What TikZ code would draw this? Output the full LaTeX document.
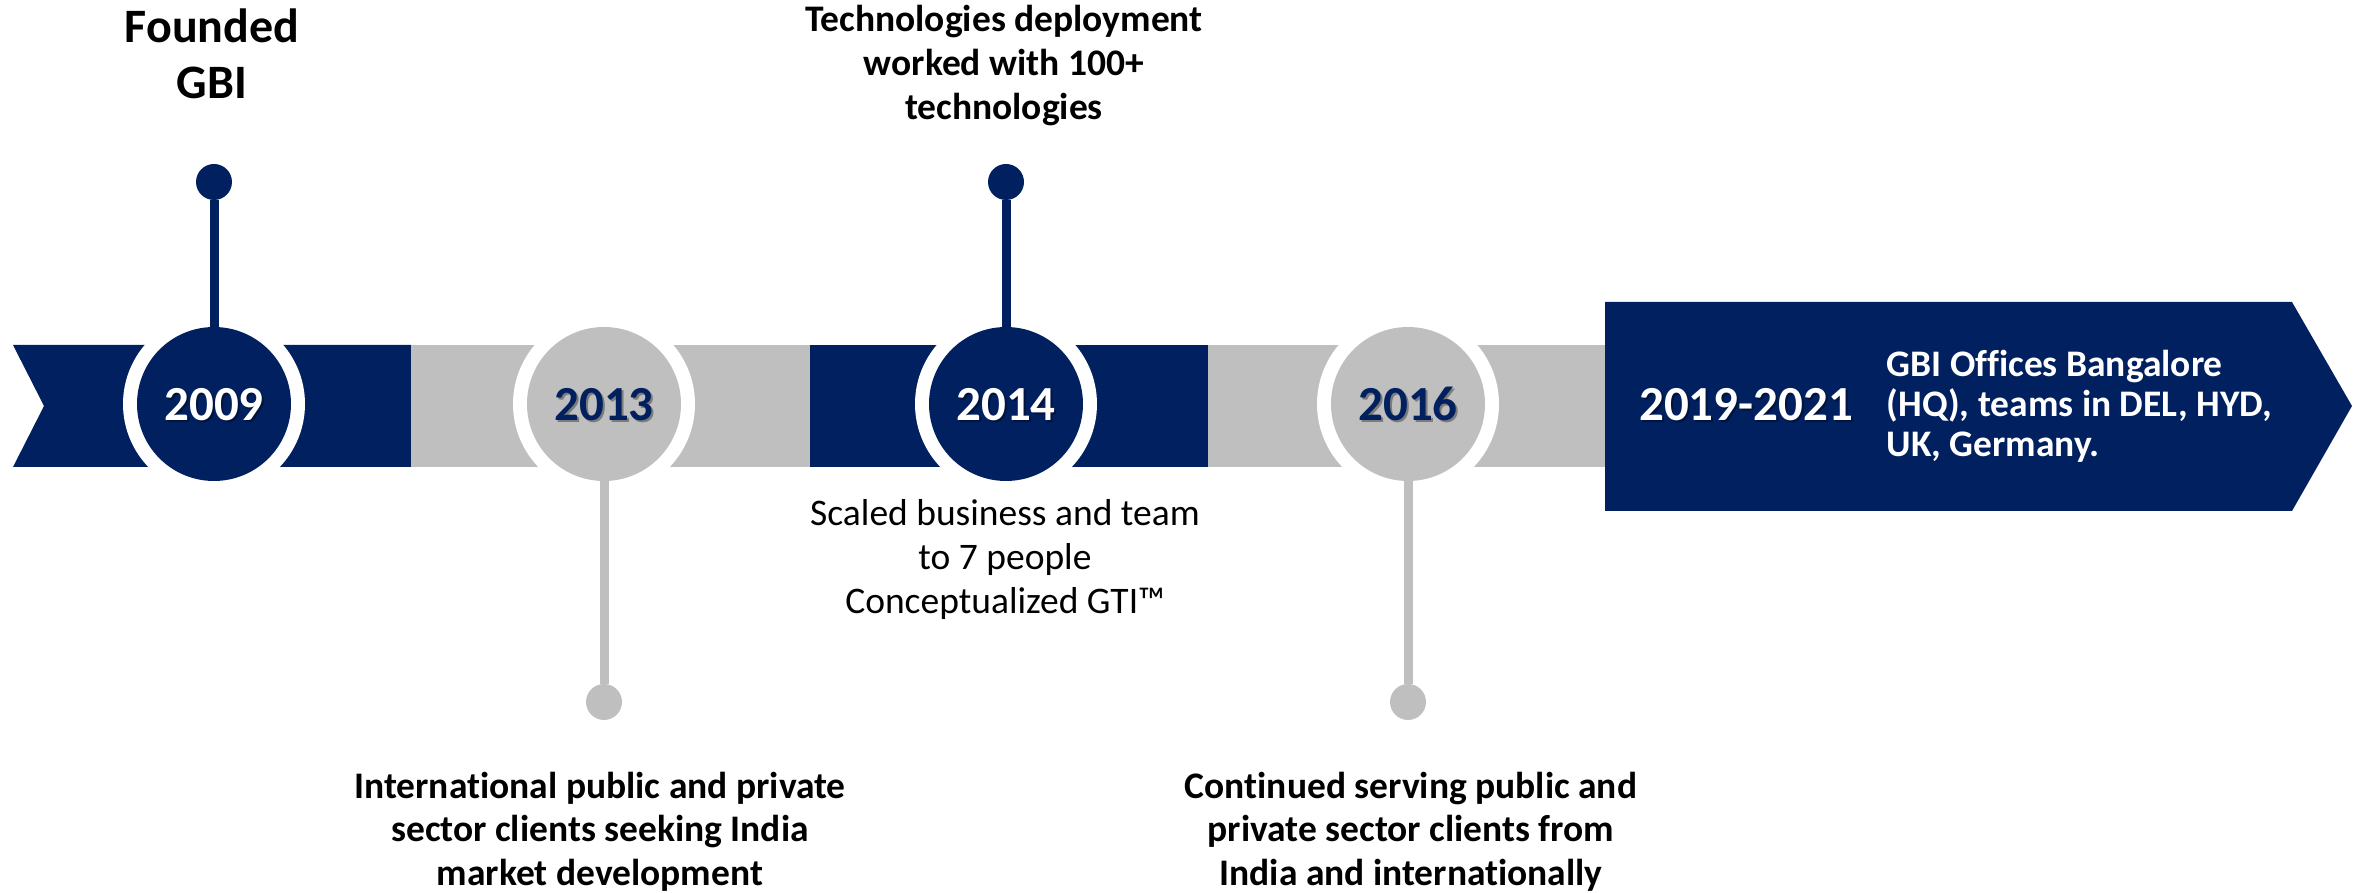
\documentclass[tikz,border=0pt]{standalone}
\usepackage{fontspec}
\setmainfont[Ligatures=NoCommon]{Carlito}
\definecolor{navy}{HTML}{002060}
\definecolor{lgray}{HTML}{BFBFBF}
\begin{document}
\begin{tikzpicture}[x=0.3pt,y=-0.3pt,
  ring/.style={circle,fill=white,minimum size=54.6pt,inner sep=0pt,outer sep=0pt},
  disc/.style={circle,fill=#1,minimum size=46.2pt,inner sep=0pt,outer sep=0pt},
  dot/.style={circle,fill=#1,minimum size=10.8pt,inner sep=0pt,outer sep=0pt},
  stem/.style={draw=#1,line width=2.7pt},
  yeartext/.style={inner sep=0pt,anchor=base,font=\fontsize{14.7}{17}\selectfont\bfseries},
  shadowtext/.style={yeartext,text=black,opacity=0.35},
  bigtitle/.style={inner sep=0pt,anchor=base,align=center,font=\fontsize{14.4}{16.8}\selectfont\bfseries},
  note/.style={inner sep=0pt,anchor=base,align=center,font=\fontsize{11.25}{13.2}\selectfont},
  boldnote/.style={note,font=\fontsize{11.25}{13.2}\selectfont\bfseries},
  arrownote/.style={inner sep=0pt,anchor=base west,align=left,text=white,font=\fontsize{11.25}{12}\selectfont\bfseries}
]
\useasboundingbox (0,0) rectangle (2366,893);

% band segments
\fill[navy] (13,345) -- (411,345) -- (411,467) -- (13,467) -- (44,406) -- cycle;
\fill[lgray] (411,345) rectangle (810,467);
\fill[navy] (810,345) rectangle (1208,467);
\fill[lgray] (1208,345) rectangle (1606,467);
% final arrow
\fill[navy] (1605,302) -- (2292,302) -- (2352,406) -- (2292,511) -- (1605,511) -- cycle;

% rings and discs
\node[ring] (r09) at (214,404) {};
\node[ring] (r13) at (604,404) {};
\node[ring] (r14) at (1006,404) {};
\node[ring] (r16) at (1408,404) {};
\node[disc=navy] (c09) at (214,404) {};
\node[disc=lgray] (c13) at (604,404) {};
\node[disc=navy] (c14) at (1006,404) {};
\node[disc=lgray] (c16) at (1408,404) {};

% dots and stems
\node[dot=navy] (d09) at (214,182) {};
\node[dot=navy] (d14) at (1006,182) {};
\node[dot=lgray] (d13) at (604,702) {};
\node[dot=lgray] (d16) at (1408,702) {};
\draw[stem=navy] (d09) -- (c09);
\draw[stem=navy] (d14) -- (c14);
\draw[stem=lgray] (c13) -- (d13);
\draw[stem=lgray] (c16) -- (d16);

% year labels
\node[shadowtext] at (216,423) {2009};
\node[shadowtext] at (606,423) {2013};
\node[shadowtext] at (1008,423) {2014};
\node[shadowtext] at (1410,423) {2016};
\node[shadowtext] at (1748,423) {2019-2021};
\node[yeartext,text=white] (y09) at (214,421) {2009};
\node[yeartext,text=navy] (y13) at (604,421) {2013};
\node[yeartext,text=white] (y14) at (1006,421) {2014};
\node[yeartext,text=navy] (y16) at (1408,421) {2016};
\node[yeartext,text=white] (y19) at (1746,421) {2019-2021};

% texts (base anchor = last line baseline)
\node[bigtitle] (t09) at (212,99) {Founded\\GBI};
\node[boldnote] (t14a) at (1004,120) {Technologies deployment\\worked with 100+\\technologies};
\node[note] (t14b) at (1005,614) {Scaled business and team\\to 7 people\\Conceptualized GTI™};
\node[boldnote] (t13) at (600,886) {International public and private\\sector clients seeking India\\market development};
\node[boldnote] (t16) at (1411,886) {Continued serving public and\\private sector clients from\\India and internationally};
\node[arrownote] (t19) at (1886,457) {GBI Offices Bangalore\\(HQ), teams in DEL, HYD,\\UK, Germany.};
\end{tikzpicture}
\end{document}
